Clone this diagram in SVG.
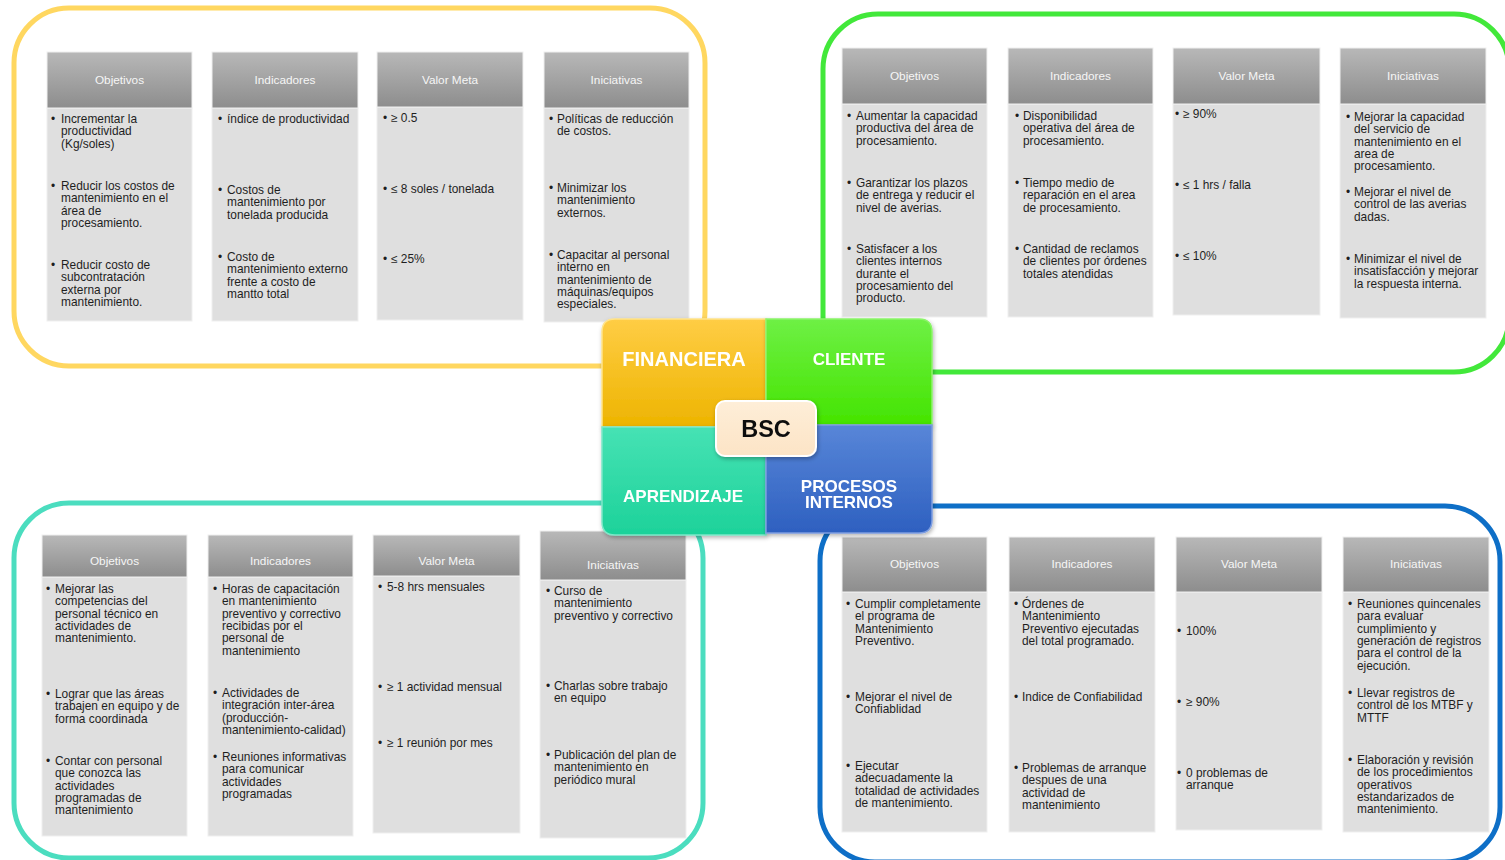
<svg xmlns="http://www.w3.org/2000/svg" width="1505" height="860" viewBox="0 0 1505 860">
<defs>
<linearGradient id="hg" x1="0" y1="0" x2="0" y2="1"><stop offset="0" stop-color="#B8B8B8"/><stop offset="1" stop-color="#8D8D8D"/></linearGradient>
<linearGradient id="gFin" x1="0" y1="0" x2="0" y2="1"><stop offset="0" stop-color="#FFCD45"/><stop offset="1" stop-color="#EDB400"/></linearGradient>
<linearGradient id="gCli" x1="0" y1="0" x2="0" y2="1"><stop offset="0" stop-color="#6EF045"/><stop offset="1" stop-color="#44E400"/></linearGradient>
<linearGradient id="gApr" x1="0" y1="0" x2="0" y2="1"><stop offset="0" stop-color="#46E2B4"/><stop offset="1" stop-color="#1DD29A"/></linearGradient>
<linearGradient id="gPro" x1="0" y1="0" x2="0" y2="1"><stop offset="0" stop-color="#5886D8"/><stop offset="1" stop-color="#2E60C0"/></linearGradient>
<linearGradient id="gBsc" x1="0" y1="0" x2="0" y2="1"><stop offset="0" stop-color="#FEEED8"/><stop offset="1" stop-color="#FCE4C6"/></linearGradient>
<filter id="sh" x="-20%" y="-20%" width="140%" height="140%"><feDropShadow dx="1" dy="2" stdDeviation="2" flood-color="#000" flood-opacity="0.3"/></filter>
</defs>
<style>
.panel{fill:#FFFFFF;stroke-width:5}
.hd{fill:url(#hg);stroke:#EFEFEF;stroke-width:1}
.bd{fill:#DFDFDF;stroke:#EFEFEF;stroke-width:1}
.ht{font-family:"Liberation Sans",Arial,sans-serif;font-size:11.8px;fill:#F6F6F6;text-anchor:middle}
.t{font-family:"Liberation Sans",Arial,sans-serif;font-size:11.9px;fill:#1E1E1E}
.q{font-family:"Liberation Sans",Arial,sans-serif;font-weight:bold;fill:#FFFFFF;text-anchor:middle}
</style>
<rect width="1505" height="860" fill="#FFFFFF"/>

<!-- panels -->
<g id="panel-financiera"><rect class="panel" x="14" y="8" width="691" height="358" rx="55" stroke="#FFD760"/></g>
<g id="panel-cliente"><rect class="panel" x="823" y="14" width="686" height="358" rx="55" stroke="#42E83A"/></g>
<g id="panel-aprendizaje"><rect class="panel" x="14" y="503" width="689" height="355" rx="55" stroke="#4BDDBF"/></g>
<g id="panel-procesos"><rect class="panel" x="820" y="506" width="680" height="356" rx="55" stroke="#0E6FC7"/></g>

<!-- FINANCIERA tables -->
<g id="fin-objetivos">
<rect class="bd" x="47" y="108" width="145" height="213"/><rect class="hd" x="47" y="52" width="145" height="56"/>
<text class="ht" x="119.5" y="84">Objetivos</text>
<text class="t" x="51" y="123">•</text><text class="t" x="61" y="123"><tspan x="61">Incrementar la</tspan><tspan x="61" dy="12.3">productividad</tspan><tspan x="61" dy="12.3">(Kg/soles)</tspan></text>
<text class="t" x="51" y="190">•</text><text class="t" x="61" y="190"><tspan x="61">Reducir los costos de</tspan><tspan x="61" dy="12.3">mantenimiento en el</tspan><tspan x="61" dy="12.3">área de</tspan><tspan x="61" dy="12.3">procesamiento.</tspan></text>
<text class="t" x="51" y="269">•</text><text class="t" x="61" y="269"><tspan x="61">Reducir costo de</tspan><tspan x="61" dy="12.3">subcontratación</tspan><tspan x="61" dy="12.3">externa por</tspan><tspan x="61" dy="12.3">mantenimiento.</tspan></text>
</g>
<g id="fin-indicadores">
<rect class="bd" x="212" y="108" width="146" height="213"/><rect class="hd" x="212" y="52" width="146" height="56"/>
<text class="ht" x="285" y="84">Indicadores</text>
<text class="t" x="218" y="123">•</text><text class="t" x="227" y="123">índice de productividad</text>
<text class="t" x="218" y="194">•</text><text class="t" x="227" y="194"><tspan x="227">Costos de</tspan><tspan x="227" dy="12.3">mantenimiento por</tspan><tspan x="227" dy="12.3">tonelada producida</tspan></text>
<text class="t" x="218" y="261">•</text><text class="t" x="227" y="261"><tspan x="227">Costo de</tspan><tspan x="227" dy="12.3">mantenimiento externo</tspan><tspan x="227" dy="12.3">frente a costo de</tspan><tspan x="227" dy="12.3">mantto total</tspan></text>
</g>
<g id="fin-valormeta">
<rect class="bd" x="377" y="107" width="146" height="213"/><rect class="hd" x="377" y="52" width="146" height="55"/>
<text class="ht" x="450" y="84">Valor Meta</text>
<text class="t" x="383" y="122">•</text><text class="t" x="391" y="122">≥ 0.5</text>
<text class="t" x="383" y="193">•</text><text class="t" x="391" y="193">≤ 8 soles / tonelada</text>
<text class="t" x="383" y="263">•</text><text class="t" x="391" y="263">≤ 25%</text>
</g>
<g id="fin-iniciativas">
<rect class="bd" x="544" y="108" width="145" height="214"/><rect class="hd" x="544" y="52" width="145" height="56"/>
<text class="ht" x="616.5" y="84">Iniciativas</text>
<text class="t" x="549" y="123">•</text><text class="t" x="557" y="123"><tspan x="557">Políticas de reducción</tspan><tspan x="557" dy="12.3">de costos.</tspan></text>
<text class="t" x="549" y="192">•</text><text class="t" x="557" y="192"><tspan x="557">Minimizar los</tspan><tspan x="557" dy="12.3">mantenimiento</tspan><tspan x="557" dy="12.3">externos.</tspan></text>
<text class="t" x="549" y="259">•</text><text class="t" x="557" y="259"><tspan x="557">Capacitar al personal</tspan><tspan x="557" dy="12.3">interno en</tspan><tspan x="557" dy="12.3">mantenimiento de</tspan><tspan x="557" dy="12.3">máquinas/equipos</tspan><tspan x="557" dy="12.3">especiales.</tspan></text>
</g>

<!-- CLIENTE tables -->
<g id="cli-objetivos">
<rect class="bd" x="842" y="104" width="145" height="213"/><rect class="hd" x="842" y="48" width="145" height="56"/>
<text class="ht" x="914.5" y="80">Objetivos</text>
<text class="t" x="847" y="120">•</text><text class="t" x="856" y="120"><tspan x="856">Aumentar la capacidad</tspan><tspan x="856" dy="12.3">productiva del área de</tspan><tspan x="856" dy="12.3">procesamiento.</tspan></text>
<text class="t" x="847" y="187">•</text><text class="t" x="856" y="187"><tspan x="856">Garantizar los plazos</tspan><tspan x="856" dy="12.3">de entrega y reducir el</tspan><tspan x="856" dy="12.3">nivel de averias.</tspan></text>
<text class="t" x="847" y="253">•</text><text class="t" x="856" y="253"><tspan x="856">Satisfacer a los</tspan><tspan x="856" dy="12.3">clientes internos</tspan><tspan x="856" dy="12.3">durante el</tspan><tspan x="856" dy="12.3">procesamiento del</tspan><tspan x="856" dy="12.3">producto.</tspan></text>
</g>
<g id="cli-indicadores">
<rect class="bd" x="1008" y="104" width="145" height="213"/><rect class="hd" x="1008" y="48" width="145" height="56"/>
<text class="ht" x="1080.5" y="80">Indicadores</text>
<text class="t" x="1015" y="120">•</text><text class="t" x="1023" y="120"><tspan x="1023">Disponibilidad</tspan><tspan x="1023" dy="12.3">operativa del área de</tspan><tspan x="1023" dy="12.3">procesamiento.</tspan></text>
<text class="t" x="1015" y="187">•</text><text class="t" x="1023" y="187"><tspan x="1023">Tiempo medio de</tspan><tspan x="1023" dy="12.3">reparación en el area</tspan><tspan x="1023" dy="12.3">de procesamiento.</tspan></text>
<text class="t" x="1015" y="253">•</text><text class="t" x="1023" y="253"><tspan x="1023">Cantidad de reclamos</tspan><tspan x="1023" dy="12.3">de clientes por órdenes</tspan><tspan x="1023" dy="12.3">totales atendidas</tspan></text>
</g>
<g id="cli-valormeta">
<rect class="bd" x="1173" y="104" width="147" height="211"/><rect class="hd" x="1173" y="48" width="147" height="56"/>
<text class="ht" x="1246.5" y="80">Valor Meta</text>
<text class="t" x="1175" y="118">•</text><text class="t" x="1183" y="118">≥ 90%</text>
<text class="t" x="1175" y="189">•</text><text class="t" x="1183" y="189">≤ 1 hrs / falla</text>
<text class="t" x="1175" y="260">•</text><text class="t" x="1183" y="260">≤ 10%</text>
</g>
<g id="cli-iniciativas">
<rect class="bd" x="1340" y="104" width="146" height="214"/><rect class="hd" x="1340" y="48" width="146" height="56"/>
<text class="ht" x="1413" y="80">Iniciativas</text>
<text class="t" x="1346" y="121">•</text><text class="t" x="1354" y="121"><tspan x="1354">Mejorar la capacidad</tspan><tspan x="1354" dy="12.3">del servicio de</tspan><tspan x="1354" dy="12.3">mantenimiento en el</tspan><tspan x="1354" dy="12.3">area de</tspan><tspan x="1354" dy="12.3">procesamiento.</tspan></text>
<text class="t" x="1346" y="196">•</text><text class="t" x="1354" y="196"><tspan x="1354">Mejorar el nivel de</tspan><tspan x="1354" dy="12.3">control de las averias</tspan><tspan x="1354" dy="12.3">dadas.</tspan></text>
<text class="t" x="1346" y="263">•</text><text class="t" x="1354" y="263"><tspan x="1354">Minimizar el nivel de</tspan><tspan x="1354" dy="12.3">insatisfacción y mejorar</tspan><tspan x="1354" dy="12.3">la respuesta interna.</tspan></text>
</g>

<!-- APRENDIZAJE tables -->
<g id="apr-objetivos">
<rect class="bd" x="42" y="577" width="145" height="259"/><rect class="hd" x="42" y="535" width="145" height="42"/>
<text class="ht" x="114.5" y="565">Objetivos</text>
<text class="t" x="46" y="593">•</text><text class="t" x="55" y="593"><tspan x="55">Mejorar las</tspan><tspan x="55" dy="12.3">competencias del</tspan><tspan x="55" dy="12.3">personal técnico en</tspan><tspan x="55" dy="12.3">actividades de</tspan><tspan x="55" dy="12.3">mantenimiento.</tspan></text>
<text class="t" x="46" y="698">•</text><text class="t" x="55" y="698"><tspan x="55">Lograr que las áreas</tspan><tspan x="55" dy="12.3">trabajen en equipo y de</tspan><tspan x="55" dy="12.3">forma coordinada</tspan></text>
<text class="t" x="46" y="765">•</text><text class="t" x="55" y="765"><tspan x="55">Contar con personal</tspan><tspan x="55" dy="12.3">que conozca las</tspan><tspan x="55" dy="12.3">actividades</tspan><tspan x="55" dy="12.3">programadas de</tspan><tspan x="55" dy="12.3">mantenimiento</tspan></text>
</g>
<g id="apr-indicadores">
<rect class="bd" x="208" y="577" width="145" height="259"/><rect class="hd" x="208" y="535" width="145" height="42"/>
<text class="ht" x="280.5" y="565">Indicadores</text>
<text class="t" x="213" y="593">•</text><text class="t" x="222" y="593"><tspan x="222">Horas de capacitación</tspan><tspan x="222" dy="12.3">en mantenimiento</tspan><tspan x="222" dy="12.3">preventivo  y correctivo</tspan><tspan x="222" dy="12.3">recibidas por el</tspan><tspan x="222" dy="12.3">personal de</tspan><tspan x="222" dy="12.3">mantenimiento</tspan></text>
<text class="t" x="213" y="697">•</text><text class="t" x="222" y="697"><tspan x="222">Actividades de</tspan><tspan x="222" dy="12.3">integración inter-área</tspan><tspan x="222" dy="12.3">(producción-</tspan><tspan x="222" dy="12.3">mantenimiento-calidad)</tspan></text>
<text class="t" x="213" y="761">•</text><text class="t" x="222" y="761"><tspan x="222">Reuniones informativas</tspan><tspan x="222" dy="12.3">para comunicar</tspan><tspan x="222" dy="12.3">actividades</tspan><tspan x="222" dy="12.3">programadas</tspan></text>
</g>
<g id="apr-valormeta">
<rect class="bd" x="373" y="576" width="147" height="257"/><rect class="hd" x="373" y="535" width="147" height="41"/>
<text class="ht" x="446.5" y="565">Valor Meta</text>
<text class="t" x="378" y="591">•</text><text class="t" x="387" y="591">5-8 hrs mensuales</text>
<text class="t" x="378" y="691">•</text><text class="t" x="387" y="691">≥ 1 actividad mensual</text>
<text class="t" x="378" y="747">•</text><text class="t" x="387" y="747">≥ 1 reunión por mes</text>
</g>
<g id="apr-iniciativas">
<rect class="bd" x="540" y="580" width="146" height="258"/><rect class="hd" x="540" y="531" width="146" height="49"/>
<text class="ht" x="613" y="569">Iniciativas</text>
<text class="t" x="546" y="595">•</text><text class="t" x="554" y="595"><tspan x="554">Curso de</tspan><tspan x="554" dy="12.3">mantenimiento</tspan><tspan x="554" dy="12.3">preventivo  y correctivo</tspan></text>
<text class="t" x="546" y="690">•</text><text class="t" x="554" y="690"><tspan x="554">Charlas sobre trabajo</tspan><tspan x="554" dy="12.3">en equipo</tspan></text>
<text class="t" x="546" y="759">•</text><text class="t" x="554" y="759"><tspan x="554">Publicación del plan de</tspan><tspan x="554" dy="12.3">mantenimiento en</tspan><tspan x="554" dy="12.3">periódico mural</tspan></text>
</g>

<!-- PROCESOS INTERNOS tables -->
<g id="pro-objetivos">
<rect class="bd" x="842" y="592" width="145" height="240"/><rect class="hd" x="842" y="537" width="145" height="55"/>
<text class="ht" x="914.5" y="568">Objetivos</text>
<text class="t" x="846" y="608">•</text><text class="t" x="855" y="608"><tspan x="855">Cumplir completamente</tspan><tspan x="855" dy="12.3">el programa de</tspan><tspan x="855" dy="12.3">Mantenimiento</tspan><tspan x="855" dy="12.3">Preventivo.</tspan></text>
<text class="t" x="846" y="701">•</text><text class="t" x="855" y="701"><tspan x="855">Mejorar el nivel de</tspan><tspan x="855" dy="12.3">Confiablidad</tspan></text>
<text class="t" x="846" y="770">•</text><text class="t" x="855" y="770"><tspan x="855">Ejecutar</tspan><tspan x="855" dy="12.3">adecuadamente la</tspan><tspan x="855" dy="12.3">totalidad de actividades</tspan><tspan x="855" dy="12.3">de mantenimiento.</tspan></text>
</g>
<g id="pro-indicadores">
<rect class="bd" x="1009" y="592" width="146" height="240"/><rect class="hd" x="1009" y="537" width="146" height="55"/>
<text class="ht" x="1082" y="568">Indicadores</text>
<text class="t" x="1014" y="608">•</text><text class="t" x="1022" y="608"><tspan x="1022">Órdenes de</tspan><tspan x="1022" dy="12.3">Mantenimiento</tspan><tspan x="1022" dy="12.3">Preventivo  ejecutadas</tspan><tspan x="1022" dy="12.3">del total programado.</tspan></text>
<text class="t" x="1014" y="701">•</text><text class="t" x="1022" y="701">Indice de Confiabilidad</text>
<text class="t" x="1014" y="772">•</text><text class="t" x="1022" y="772"><tspan x="1022">Problemas de arranque</tspan><tspan x="1022" dy="12.3">despues de una</tspan><tspan x="1022" dy="12.3">actividad de</tspan><tspan x="1022" dy="12.3">mantenimiento</tspan></text>
</g>
<g id="pro-valormeta">
<rect class="bd" x="1176" y="592" width="146" height="238"/><rect class="hd" x="1176" y="537" width="146" height="55"/>
<text class="ht" x="1249" y="568">Valor Meta</text>
<text class="t" x="1177" y="635">•</text><text class="t" x="1186" y="635">100%</text>
<text class="t" x="1177" y="706">•</text><text class="t" x="1186" y="706">≥ 90%</text>
<text class="t" x="1177" y="777">•</text><text class="t" x="1186" y="777"><tspan x="1186">0 problemas de</tspan><tspan x="1186" dy="12.3">arranque</tspan></text>
</g>
<g id="pro-iniciativas">
<rect class="bd" x="1343" y="592" width="146" height="240"/><rect class="hd" x="1343" y="537" width="146" height="55"/>
<text class="ht" x="1416" y="568">Iniciativas</text>
<text class="t" x="1348" y="608">•</text><text class="t" x="1357" y="608"><tspan x="1357">Reuniones quincenales</tspan><tspan x="1357" dy="12.3">para evaluar</tspan><tspan x="1357" dy="12.3">cumplimiento y</tspan><tspan x="1357" dy="12.3">generación de registros</tspan><tspan x="1357" dy="12.3">para el control de la</tspan><tspan x="1357" dy="12.3">ejecución.</tspan></text>
<text class="t" x="1348" y="697">•</text><text class="t" x="1357" y="697"><tspan x="1357">Llevar registros de</tspan><tspan x="1357" dy="12.3">control de los MTBF y</tspan><tspan x="1357" dy="12.3">MTTF</tspan></text>
<text class="t" x="1348" y="764">•</text><text class="t" x="1357" y="764"><tspan x="1357">Elaboración y revisión</tspan><tspan x="1357" dy="12.3">de los procedimientos</tspan><tspan x="1357" dy="12.3">operativos</tspan><tspan x="1357" dy="12.3">estandarizados de</tspan><tspan x="1357" dy="12.3">mantenimiento.</tspan></text>
</g>

<g id="connectors"></g>

<!-- BSC center -->
<g id="q-financiera" filter="url(#sh)">
<path d="M766,319 H615 Q602,319 602,332 V427 H766 Z" fill="url(#gFin)" stroke="#FFE38A" stroke-width="1.5"/>
<text class="q" x="684" y="366" font-size="20">FINANCIERA</text>
</g>
<g id="q-cliente" filter="url(#sh)">
<path d="M766,319 H919 Q932,319 932,332 V425 H766 Z" fill="url(#gCli)" stroke="#8CF46A" stroke-width="1.5"/>
<text class="q" x="849" y="365" font-size="17">CLIENTE</text>
</g>
<g id="q-aprendizaje" filter="url(#sh)">
<path d="M602,427 H766 V535 H615 Q602,535 602,522 Z" fill="url(#gApr)" stroke="#7CE8C8" stroke-width="1.5"/>
<text class="q" x="683" y="502" font-size="17">APRENDIZAJE</text>
</g>
<g id="q-procesos" filter="url(#sh)">
<path d="M766,425 H932 V520 Q932,533 919,533 H766 Z" fill="url(#gPro)" stroke="#7C9CE0" stroke-width="1.5"/>
<text class="q" x="849" y="492" font-size="17">PROCESOS</text>
<text class="q" x="849" y="508" font-size="17">INTERNOS</text>
</g>
<g id="bsc" filter="url(#sh)">
<rect x="716" y="401" width="100" height="55" rx="9" fill="url(#gBsc)" stroke="#FFFFFF" stroke-width="2"/>
<text x="766" y="437" font-family="'Liberation Sans',Arial,sans-serif" font-weight="bold" font-size="23.5" fill="#111111" text-anchor="middle">BSC</text>
</g>
</svg>
